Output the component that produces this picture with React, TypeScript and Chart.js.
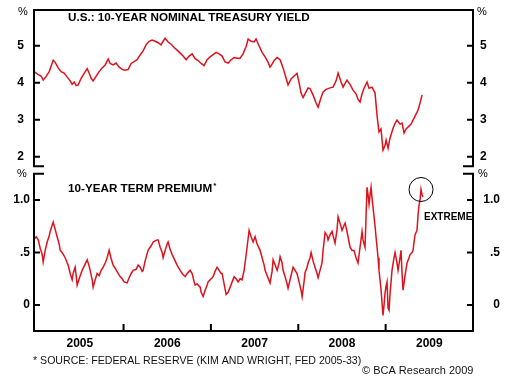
import { useEffect, useRef } from "react";
import { Chart, registerables } from "chart.js";

Chart.register(...registerables);

// U.S. 10-year nominal Treasury yield (%), decimal-year dates
const yieldDates = [
  2004.98, 2005.023, 2005.057, 2005.08, 2005.114, 2005.149, 2005.172, 2005.195, 2005.217, 2005.252,
  2005.286, 2005.32, 2005.355, 2005.389, 2005.412, 2005.435, 2005.458, 2005.481, 2005.515, 2005.549,
  2005.584, 2005.606, 2005.629, 2005.652, 2005.687, 2005.721, 2005.755, 2005.79, 2005.824, 2005.847,
  2005.881, 2005.915, 2005.95, 2005.984, 2006.018, 2006.053, 2006.087, 2006.121, 2006.156, 2006.19,
  2006.224, 2006.259, 2006.293, 2006.327, 2006.362, 2006.396, 2006.43, 2006.453, 2006.476, 2006.51,
  2006.545, 2006.579, 2006.613, 2006.648, 2006.682, 2006.716, 2006.751, 2006.785, 2006.819, 2006.854,
  2006.888, 2006.922, 2006.957, 2006.991, 2007.025, 2007.06, 2007.094, 2007.128, 2007.162, 2007.197,
  2007.231, 2007.266, 2007.3, 2007.334, 2007.368, 2007.403, 2007.426, 2007.46, 2007.494, 2007.517,
  2007.551, 2007.586, 2007.62, 2007.655, 2007.677, 2007.7, 2007.723, 2007.758, 2007.792, 2007.826,
  2007.861, 2007.883, 2007.918, 2007.952, 2007.986, 2008.009, 2008.032, 2008.055, 2008.089, 2008.112,
  2008.135, 2008.169, 2008.204, 2008.227, 2008.261, 2008.284, 2008.318, 2008.364, 2008.398, 2008.433,
  2008.456, 2008.49, 2008.513, 2008.536, 2008.558, 2008.593, 2008.627, 2008.661, 2008.684, 2008.707,
  2008.73, 2008.753, 2008.787, 2008.81, 2008.844, 2008.879, 2008.902, 2008.924, 2008.947, 2008.97,
  2008.993, 2009.005, 2009.028, 2009.05, 2009.085, 2009.108, 2009.13, 2009.165, 2009.188, 2009.211,
  2009.234, 2009.256, 2009.291, 2009.314, 2009.348, 2009.371, 2009.394, 2009.417,
];
const yieldValues = [
  4.29, 4.22, 4.18, 4.07, 4.17, 4.3, 4.45, 4.61, 4.55, 4.4,
  4.3, 4.26, 4.15, 4.05, 3.96, 4.02, 3.92, 3.94, 4.12, 4.25,
  4.38, 4.26, 4.12, 4.05, 4.18, 4.3, 4.4, 4.48, 4.64, 4.52,
  4.48, 4.53, 4.42, 4.36, 4.34, 4.36, 4.52, 4.57, 4.62, 4.75,
  4.86, 5.03, 5.12, 5.15, 5.12, 5.08, 5.02, 5.12, 5.2, 5.1,
  5.04, 4.95, 4.88, 4.8, 4.72, 4.62, 4.72, 4.78, 4.65, 4.6,
  4.52, 4.46, 4.62, 4.7, 4.76, 4.82, 4.78, 4.72, 4.56, 4.53,
  4.62, 4.68, 4.66, 4.66, 4.78, 4.98, 5.18, 5.12, 5.1, 5.18,
  5.0, 4.82, 4.7, 4.55, 4.42, 4.5, 4.6, 4.68, 4.62, 4.4,
  4.12, 3.94, 4.1, 4.18, 4.25, 4.0, 3.72, 3.6, 3.75, 3.86,
  3.84, 3.67, 3.45, 3.34, 3.6, 3.75, 3.82, 3.86, 3.88, 4.05,
  4.26, 4.02, 3.88, 3.98, 4.07, 3.95, 3.8, 3.7, 3.55, 3.48,
  3.7, 3.85, 4.02, 3.85, 3.88, 3.72, 3.1, 2.67, 2.75, 2.18,
  2.3, 2.45, 2.23, 2.5, 2.77, 2.9, 2.99, 2.88, 2.91, 2.64,
  2.75, 2.8, 2.88, 2.99, 3.15, 3.26, 3.45, 3.67,
];

// 10-year term premium (%), decimal-year dates
const premDates = [
  2004.98, 2005.0, 2005.023, 2005.046, 2005.069, 2005.08, 2005.103, 2005.126, 2005.149, 2005.16,
  2005.183, 2005.195, 2005.217, 2005.24, 2005.263, 2005.275, 2005.297, 2005.332, 2005.355, 2005.366,
  2005.389, 2005.412, 2005.423, 2005.446, 2005.458, 2005.469, 2005.492, 2005.526, 2005.549, 2005.584,
  2005.606, 2005.618, 2005.641, 2005.652, 2005.675, 2005.698, 2005.721, 2005.744, 2005.767, 2005.79,
  2005.812, 2005.835, 2005.858, 2005.881, 2005.904, 2005.938, 2005.961, 2005.984, 2006.007, 2006.041,
  2006.064, 2006.087, 2006.11, 2006.144, 2006.167, 2006.19, 2006.213, 2006.224, 2006.247, 2006.281,
  2006.304, 2006.327, 2006.339, 2006.362, 2006.384, 2006.396, 2006.419, 2006.442, 2006.453, 2006.476,
  2006.499, 2006.51, 2006.533, 2006.556, 2006.568, 2006.59, 2006.613, 2006.648, 2006.671, 2006.693,
  2006.705, 2006.728, 2006.751, 2006.762, 2006.785, 2006.808, 2006.819, 2006.842, 2006.877, 2006.888,
  2006.911, 2006.934, 2006.957, 2006.968, 2006.991, 2007.014, 2007.025, 2007.048, 2007.071, 2007.094,
  2007.117, 2007.128, 2007.151, 2007.174, 2007.197, 2007.22, 2007.243, 2007.266, 2007.288, 2007.311,
  2007.334, 2007.357, 2007.38, 2007.391, 2007.414, 2007.437, 2007.46, 2007.483, 2007.506, 2007.529,
  2007.563, 2007.586, 2007.609, 2007.62, 2007.643, 2007.677, 2007.7, 2007.712, 2007.735, 2007.758,
  2007.78, 2007.792, 2007.815, 2007.826, 2007.849, 2007.872, 2007.883, 2007.906, 2007.929, 2007.941,
  2007.963, 2007.986, 2008.009, 2008.032, 2008.044, 2008.066, 2008.078, 2008.101, 2008.112, 2008.135,
  2008.147, 2008.169, 2008.192, 2008.215, 2008.227, 2008.249, 2008.272, 2008.284, 2008.307, 2008.33,
  2008.341, 2008.364, 2008.387, 2008.398, 2008.421, 2008.444, 2008.456, 2008.478, 2008.501, 2008.524,
  2008.536, 2008.558, 2008.581, 2008.593, 2008.616, 2008.638, 2008.661, 2008.684, 2008.707, 2008.73,
  2008.741, 2008.764, 2008.776, 2008.787, 2008.799, 2008.81, 2008.822, 2008.833, 2008.844, 2008.856,
  2008.879, 2008.89, 2008.913, 2008.924, 2008.947, 2008.959, 2008.97, 2008.982, 2008.993, 2009.005,
  2009.016, 2009.028, 2009.039, 2009.05, 2009.073, 2009.096, 2009.108, 2009.13, 2009.142, 2009.165,
  2009.176, 2009.188, 2009.199, 2009.222, 2009.245, 2009.268, 2009.279, 2009.302, 2009.314, 2009.325,
  2009.337, 2009.348, 2009.359, 2009.371, 2009.382, 2009.394, 2009.405, 2009.417, 2009.428,
];
const premValues = [
  0.63, 0.65, 0.62, 0.54, 0.48, 0.41, 0.52, 0.6, 0.66, 0.7,
  0.76, 0.79, 0.72, 0.65, 0.58, 0.52, 0.5, 0.45, 0.4, 0.38,
  0.3, 0.24, 0.3, 0.36, 0.28, 0.19, 0.25, 0.33, 0.37, 0.43,
  0.37, 0.33, 0.24, 0.17, 0.24, 0.3, 0.28, 0.33, 0.36, 0.4,
  0.45, 0.52, 0.44, 0.38, 0.35, 0.3, 0.27, 0.25, 0.22, 0.21,
  0.26, 0.3, 0.33, 0.34, 0.38, 0.36, 0.32, 0.33, 0.42, 0.52,
  0.55, 0.58, 0.6, 0.61, 0.62, 0.62, 0.55, 0.5, 0.45, 0.52,
  0.58, 0.6, 0.53, 0.48, 0.46, 0.42, 0.38, 0.33, 0.3, 0.28,
  0.27, 0.3, 0.32, 0.33, 0.3, 0.22, 0.19, 0.2, 0.17, 0.12,
  0.08, 0.14, 0.19, 0.22, 0.24, 0.26, 0.27, 0.32, 0.36, 0.33,
  0.3, 0.3, 0.2, 0.1, 0.12, 0.17, 0.22, 0.27, 0.25, 0.22,
  0.25, 0.24, 0.33, 0.4, 0.55, 0.71, 0.65, 0.6, 0.65, 0.58,
  0.52, 0.45, 0.38, 0.33, 0.28, 0.21, 0.32, 0.43, 0.38, 0.33,
  0.4, 0.46, 0.4, 0.33, 0.27, 0.2, 0.16, 0.24, 0.32, 0.36,
  0.33, 0.3, 0.22, 0.14, 0.08, 0.22, 0.31, 0.36, 0.4, 0.45,
  0.5, 0.42, 0.36, 0.3, 0.26, 0.33, 0.4, 0.52, 0.69, 0.66,
  0.62, 0.67, 0.7, 0.66, 0.59, 0.72, 0.84, 0.78, 0.71, 0.76,
  0.78, 0.7, 0.6, 0.55, 0.52, 0.52, 0.45, 0.4, 0.55, 0.7,
  0.62, 0.55, 0.85, 1.12, 1.05, 0.96, 1.05, 1.12, 1.02, 0.93,
  0.75, 0.65, 0.45, 0.33, 0.15, 0.02, -0.1, 0.0, 0.11, 0.18,
  0.22, -0.03, -0.05, 0.1, 0.33, 0.45, 0.5, 0.4, 0.33, 0.45,
  0.52, 0.3, 0.14, 0.28, 0.4, 0.45, 0.48, 0.5, 0.52, 0.6,
  0.67, 0.69, 0.71, 0.86, 0.95, 1.0, 1.1, 1.05, 1.03,
];

const yearLabels = ["2005", "2006", "2007", "2008", "2009"];
const yearCenters = [2005.5, 2006.5, 2007.5, 2008.5, 2009.5];
const yearBoundaries = [2006, 2007, 2008, 2009];
const yieldTicks = [2, 3, 4, 5];
const yieldTickLabels = ["2", "3", "4", "5"];
const premTicks = [0, 0.5, 1.0];
const premTickLabels = ["0", ".5", "1.0"];

const X_MIN = 2004.975;
const X_MAX = 2010.0;
const YIELD_MIN = -2.711;
const YIELD_MAX = 5.965;
const YIELD_FLOOR = 1.74; // bottom of upper panel
const PREM_MIN = -0.248;
const PREM_MAX = 2.81;
const PREM_CEIL = 1.25; // top of lower panel
const EXTREME_POINT = { x: 2009.405, y: 1.1 };

const TOP_TITLE = "U.S.: 10-YEAR NOMINAL TREASURY YIELD";
const BOTTOM_TITLE = "10-YEAR TERM PREMIUM";
const FOOTNOTE = "* SOURCE: FEDERAL RESERVE (KIM AND WRIGHT, FED 2005-33)";
const COPYRIGHT = "\u00A9 BCA Research 2009";

const FONT = '"Liberation Sans", Arial, Helvetica, sans-serif';
const RED = "rgb(222,18,28)";

const decorPlugin = {
  id: "bcaDecor",
  afterDraw(chart: any) {
    const { ctx, chartArea } = chart;
    const xs = chart.scales.x;
    const yt = chart.scales.yTop;
    const yb = chart.scales.yBot;
    const L = chartArea.left;
    const R = chartArea.right;
    const T = chartArea.top;
    const B = chartArea.bottom;
    const topBottom = yt.getPixelForValue(YIELD_FLOOR);
    const botTop = yb.getPixelForValue(PREM_CEIL);

    ctx.save();
    ctx.strokeStyle = "#000";
    ctx.lineWidth = 2;
    ctx.lineJoin = "miter";
    ctx.lineCap = "butt";
    // upper panel frame
    ctx.beginPath();
    ctx.moveTo(L + 10, topBottom);
    ctx.lineTo(L, topBottom);
    ctx.lineTo(L, T);
    ctx.lineTo(R, T);
    ctx.lineTo(R, topBottom);
    ctx.lineTo(R - 10, topBottom);
    ctx.stroke();
    // lower panel frame
    ctx.beginPath();
    ctx.moveTo(L + 10, botTop);
    ctx.lineTo(L, botTop);
    ctx.lineTo(L, B);
    ctx.lineTo(R, B);
    ctx.lineTo(R, botTop);
    ctx.lineTo(R - 10, botTop);
    ctx.stroke();

    // y ticks
    ctx.beginPath();
    yieldTicks.forEach((v) => {
      const y = yt.getPixelForValue(v);
      ctx.moveTo(L, y);
      ctx.lineTo(L + 6, y);
      ctx.moveTo(R, y);
      ctx.lineTo(R - 6, y);
    });
    premTicks.forEach((v) => {
      const y = yb.getPixelForValue(v);
      ctx.moveTo(L, y);
      ctx.lineTo(L + 6, y);
      ctx.moveTo(R, y);
      ctx.lineTo(R - 6, y);
    });
    yearBoundaries.forEach((v) => {
      const x = xs.getPixelForValue(v);
      ctx.moveTo(x, B);
      ctx.lineTo(x, B - 7);
    });
    ctx.stroke();

    ctx.fillStyle = "#000";
    ctx.textBaseline = "middle";
    ctx.font = `bold 12px ${FONT}`;
    yieldTicks.forEach((v, i) => {
      const y = yt.getPixelForValue(v);
      ctx.textAlign = "right";
      ctx.fillText(yieldTickLabels[i], L - 10, y);
      ctx.textAlign = "left";
      ctx.fillText(yieldTickLabels[i], R + 7, y);
    });
    premTicks.forEach((v, i) => {
      const y = yb.getPixelForValue(v);
      ctx.textAlign = "right";
      ctx.fillText(premTickLabels[i], L - 4, y);
      ctx.fillText(premTickLabels[i], R + 27, y);
    });

    // year labels
    ctx.textAlign = "center";
    yearCenters.forEach((v, i) => {
      ctx.fillText(yearLabels[i], xs.getPixelForValue(v), B + 13);
    });

    // titles
    ctx.textAlign = "left";
    ctx.font = `bold 11.7px ${FONT}`;
    ctx.fillText(TOP_TITLE, L + 34, T + 8);
    ctx.fillText(BOTTOM_TITLE, L + 34, botTop + 15);
    const tw = ctx.measureText(BOTTOM_TITLE).width;
    ctx.font = `bold 8px ${FONT}`;
    ctx.fillText("*", L + 35 + tw, botTop + 12);

    // percent signs
    ctx.font = `11px ${FONT}`;
    ctx.textAlign = "center";
    ctx.fillText("%", L - 11, T + 2);
    ctx.fillText("%", R + 9, T + 2);
    ctx.fillText("%", L - 12, botTop);
    ctx.fillText("%", R + 10, botTop);

    // footnote and copyright
    ctx.textAlign = "left";
    ctx.font = `10.6px ${FONT}`;
    ctx.fillStyle = "#111";
    ctx.fillText(FOOTNOTE, L - 1, B + 30);
    ctx.font = `11px ${FONT}`;
    ctx.fillText(COPYRIGHT, 362, B + 40);

    // extreme annotation
    const cx = xs.getPixelForValue(EXTREME_POINT.x);
    const cy = yb.getPixelForValue(EXTREME_POINT.y);
    ctx.lineWidth = 1;
    ctx.beginPath();
    ctx.arc(cx, cy, 12, 0, Math.PI * 2);
    ctx.stroke();
    ctx.font = `bold 10px ${FONT}`;
    ctx.fillStyle = "#000";
    ctx.fillText("EXTREME", cx + 3, cy + 28);
    ctx.restore();
  },
};

export default function App() {
  const canvasRef = useRef<HTMLCanvasElement | null>(null);

  useEffect(() => {
    const canvas = canvasRef.current;
    if (!canvas) return;
    const chart = new Chart(canvas, {
      type: "line",
      data: {
        datasets: [
          {
            label: "10-year nominal Treasury yield",
            data: yieldDates.map((d, i) => ({ x: d, y: yieldValues[i] })),
            yAxisID: "yTop",
            borderColor: RED,
            borderWidth: 1.5,
            pointRadius: 0,
            tension: 0,
            fill: false,
          },
          {
            label: "10-year term premium",
            data: premDates.map((d, i) => ({ x: d, y: premValues[i] })),
            yAxisID: "yBot",
            borderColor: RED,
            borderWidth: 1.5,
            pointRadius: 0,
            tension: 0,
            fill: false,
          },
        ],
      },
      options: {
        responsive: false,
        animation: false,
        devicePixelRatio: 1,
        layout: { padding: { left: 34, top: 10, right: 37, bottom: 53 } },
        plugins: { legend: { display: false }, tooltip: { enabled: false } },
        scales: {
          x: { type: "linear", min: X_MIN, max: X_MAX, display: false },
          yTop: { type: "linear", min: YIELD_MIN, max: YIELD_MAX, display: false },
          yBot: { type: "linear", min: PREM_MIN, max: PREM_MAX, display: false },
        },
      },
      plugins: [decorPlugin],
    });
    return () => chart.destroy();
  }, []);

  return (
    <div style={{ position: "fixed", left: 0, top: 0, width: 510, height: 384, background: "#fff" }}>
      <canvas ref={canvasRef} width={510} height={384} style={{ display: "block" }} />
    </div>
  );
}
